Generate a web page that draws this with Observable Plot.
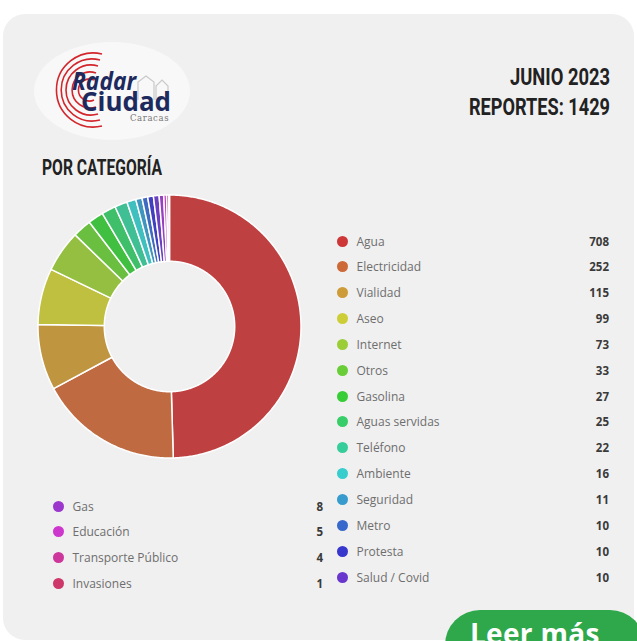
<!DOCTYPE html>
<html><head><meta charset="utf-8">
<script src="https://cdn.jsdelivr.net/npm/d3@7"></script>
<script src="https://cdn.jsdelivr.net/npm/@observablehq/plot@0.6"></script>
<style>
html,body{margin:0;padding:0;background:#fff;width:637px;height:641px;overflow:hidden;font-family:"Open Sans",sans-serif;}
#card{position:absolute;left:3px;top:14px;width:631px;height:626px;background:#f0f0f0;border-radius:22px;}
#donut{position:absolute;left:38px;top:195px;}
.row{position:absolute;height:26px;display:flex;align-items:center;}
.dot{width:11px;height:11px;border-radius:50%;flex:none;}
.lab{font-size:12px;color:#6e6e6e;margin-left:9px;white-space:nowrap;}
.val{position:absolute;right:0;font-size:11.5px;font-weight:700;color:#3a3a3a;}
#btn{position:absolute;left:445px;top:610px;width:200px;height:70px;border-radius:35px;background:#2ea84a;color:#fff;font-weight:700;font-size:28px;}
#btn span{position:absolute;left:25px;top:4px;letter-spacing:0.3px;}
svg.hdr{position:absolute;left:0;top:0;}
</style></head>
<body>
<div id="card"></div>
<svg class="hdr" width="637" height="200">
  <ellipse cx="112" cy="91" rx="78" ry="49" fill="#f8f8f8"/>
  <g fill="none" stroke="#d3262c" stroke-width="1.6">
    <path d="M 94 80 A 11 11 0 1 0 94 100"/>
    <path d="M 96 73 A 18 18 0 1 0 96 107"/>
    <path d="M 98 66 A 25 25 0 1 0 98 114"/>
    <path d="M 100 60 A 31 31 0 1 0 100 120"/>
    <path d="M 102 54 A 37 37 0 1 0 102 126"/>
  </g>
  <g fill="none" stroke="#c9c9c9" stroke-width="1.2">
    <path d="M 138 100 L 138 82 L 146 76 L 154 82 L 154 100 M 156 100 L 156 86 L 162 80 L 168 86 L 168 100"/>
  </g>
  <text x="72" y="90" font-family="'Open Sans'" font-style="italic" font-weight="700" font-size="25" fill="#1d2a5e" textLength="64" lengthAdjust="spacingAndGlyphs">Radar</text>
  <text x="81" y="111" font-family="'Open Sans'" font-weight="700" font-size="27" fill="#1d2a5e" textLength="90" lengthAdjust="spacingAndGlyphs">Ciudad</text>
  <text x="130" y="121" font-family="'DejaVu Serif'" font-size="8.5" fill="#777" letter-spacing="0.6">Caracas</text>
  <text x="610" y="85" text-anchor="end" font-family="Roboto" font-weight="700" font-size="24" fill="#222" textLength="100" lengthAdjust="spacingAndGlyphs">JUNIO 2023</text>
  <text x="610" y="115" text-anchor="end" font-family="Roboto" font-weight="700" font-size="24" fill="#222" textLength="141" lengthAdjust="spacingAndGlyphs">REPORTES: 1429</text>
  <text x="42" y="175" font-family="Roboto" font-weight="700" font-size="22" fill="#222" textLength="120" lengthAdjust="spacingAndGlyphs">POR CATEGORÍA</text>
</svg>
<div id="donut"></div>
<div id="legend"></div>
<div id="btn"><span>Leer más</span></div>
<script>
const categories = ["Agua","Electricidad","Vialidad","Aseo","Internet","Otros","Gasolina","Aguas servidas","Teléfono","Ambiente","Seguridad","Metro","Protesta","Salud / Covid","Gas","Educación","Transporte Público","Invasiones"];
const values = [708,252,115,99,73,33,27,25,22,16,11,10,10,10,8,5,4,1];
const colors = ["#bf4040","#bf6a40","#bf9540","#bfbf40","#95bf40","#6abf40","#40bf40","#40bf6a","#40bf95","#40bfbf","#4095bf","#406abf","#4040bf","#6a40bf","#9540bf","#bf40bf","#bf4095","#bf406a"];

const INNER = 0.496;
const arcs = d3.pie().sort(null).value(d => d)(values);
const pts = [];
arcs.forEach((p, i) => {
  const n = Math.max(2, Math.ceil((p.endAngle - p.startAngle) / 0.01));
  for (let k = 0; k <= n; k++) {
    const a = p.startAngle + (p.endAngle - p.startAngle) * k / n;
    pts.push({cat: categories[i], a});
  }
});
const chart = Plot.plot({
  width: 263, height: 263, margin: 0,
  style: {background: "transparent", overflow: "visible"},
  x: {domain: [-1, 1], axis: null},
  y: {domain: [-1, 1], axis: null},
  color: {domain: categories, range: colors},
  marks: [
    Plot.area(pts, {
      x1: d => Math.sin(d.a), y1: d => Math.cos(d.a),
      x2: d => INNER * Math.sin(d.a), y2: d => INNER * Math.cos(d.a),
      z: "cat", fill: "cat", stroke: "white", strokeWidth: 1.5
    })
  ]
});
document.getElementById("donut").appendChild(chart);

const legend = document.getElementById("legend");
function dotColor(c) { const h = d3.hsl(c); h.s = Math.min(1, h.s * 1.2); h.l = h.l * 1.02; return h.formatHex(); }
categories.forEach((c, i) => {
  let left, top, width;
  if (i < 14) { left = 336.5; top = 241 + i * 25.85 - 13; width = 609 - 336.5; }
  else { left = 52.5; top = 506 + (i - 14) * 25.7 - 13; width = 323 - 52.5; }
  const row = document.createElement("div");
  row.className = "row";
  row.style.left = left + "px"; row.style.top = top + "px"; row.style.width = width + "px";
  row.innerHTML = `<div class="dot" style="background:${dotColor(colors[i])}"></div><div class="lab">${c}</div><div class="val">${values[i]}</div>`;
  legend.appendChild(row);
});
</script>
</body></html>
